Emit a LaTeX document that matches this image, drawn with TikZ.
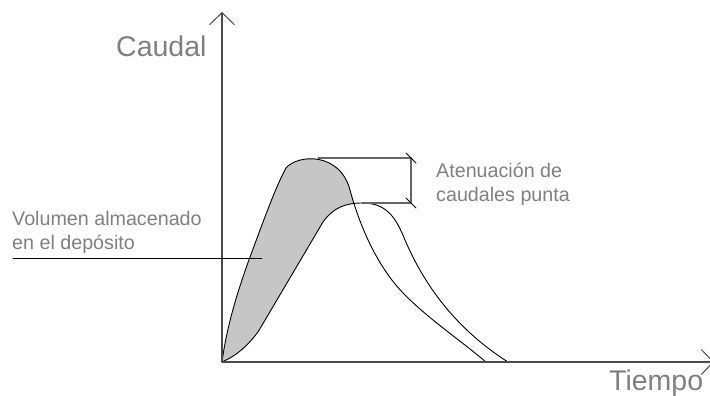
\documentclass[tikz,border=0pt]{standalone}
\usepackage{fontspec}
\setmainfont{Liberation Sans}
\usetikzlibrary{arrows.meta}
\definecolor{textgray}{RGB}{128,128,128}
\definecolor{axisgray}{RGB}{75,75,75}
\definecolor{fillgray}{RGB}{198,198,198}
% hidrogramas de entrada y de salida
\newcommand\inflowpath{(O) .. controls (227,325) and (238,290) .. (250,257) .. controls (262,225) and (275,188) .. (286,168) .. controls (298,154) and (340,152) .. (350,190) .. controls (358,220) and (375,265) .. (405,295) .. controls (430,320) and (460,340) .. (486,362)}
\newcommand\outflowpath{(O) .. controls (238,355) and (248,345) .. (258,332) -- (323,222) .. controls (333,208) and (345,203) .. (362,203) .. controls (385,203) and (395,215) .. (405,240) .. controls (418,270) and (445,322) .. (508,362)}
\begin{document}
\begin{tikzpicture}[x=1pt,y=-1pt, line join = round, line cap = round,
	axis/.style={draw=axisgray,line width=1.1pt,-{Straight Barb[length=12pt,width=25pt,line width=1pt]}},
	curve/.style={draw=black,line width=.9pt},
	dimline/.style={draw=axisgray!85,line width=1.1pt},
	big/.style={text=textgray,inner sep=0pt,font=\fontsize{28.5}{32}\selectfont},
	note/.style={text=textgray,inner sep=0pt,align=left,font=\fontsize{19.7}{23.5}\selectfont}]
	\clip (0,0) rectangle (710,396);
	\coordinate (O) at (222,362);
	\coordinate (ytip) at (222,12);
	\coordinate (xtip) at (714,362);
	\coordinate (pin) at (318,158);
	\coordinate (pout) at (362,203);
	\coordinate (dimtop) at (411,158);
	\coordinate (dimbot) at (411,203);
	\coordinate (volfoot) at (13,258);
	\coordinate (volpt) at (262,258);
	% volumen almacenado
	\fill[fillgray] \inflowpath -- cycle;
	\fill[white] \outflowpath -- cycle;
	\draw[curve] \inflowpath;
	\draw[curve] \outflowpath;
	\draw[axis] (O)--(ytip);
	\draw[axis] (O)--(xtip);
	\draw[dimline] (pin)--(dimtop)--(dimbot)--(pout);
	\foreach \p in {dimtop,dimbot}\draw[line width=.8pt] (\p)+(-5,-5)--+(5,5);
	\draw[line width=.9pt] (volfoot)--(volpt);
	\node[big,anchor=base west] (caudal) at (116,57) {Caudal};
	\node[big,anchor=base west] (tiempo) at (609,390) {Tiempo};
	\node[note,anchor=base west] (atenua) at (436,201) {Atenuación de\\caudales punta};
	\node[note,anchor=base west] (volumen) at (12,249) {Volumen almacenado\\en el depósito};
\end{tikzpicture}
\end{document}
